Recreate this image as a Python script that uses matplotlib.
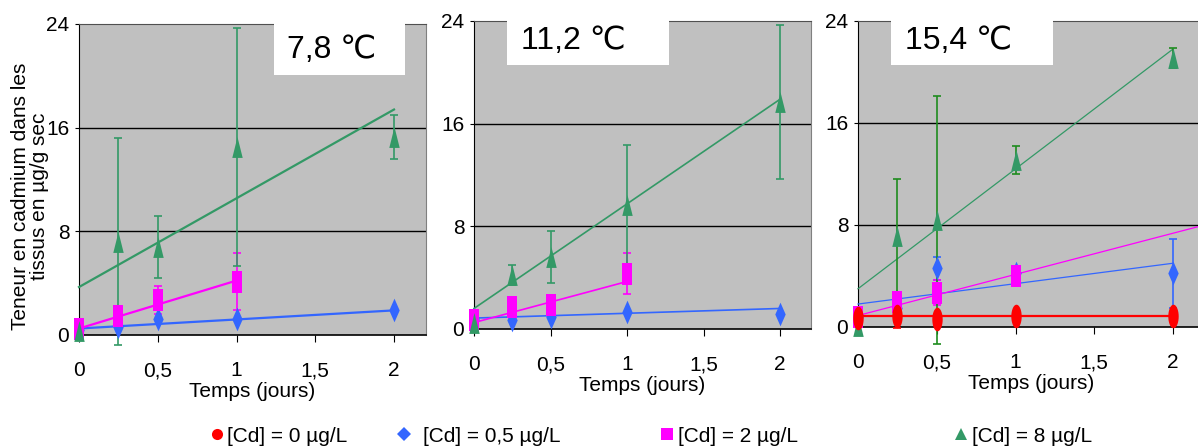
import numpy as np
import matplotlib
matplotlib.use("Agg")
from matplotlib import pyplot as plt
from matplotlib.lines import Line2D
from matplotlib.patches import Rectangle
from matplotlib.path import Path

plt.rcParams["font.family"] = ["Liberation Sans", "DejaVu Sans"]

nan = np.nan

panel_titles = ["7,8 \u2103", "11,2 \u2103", "15,4 \u2103"]
times = [0, 0.25, 0.5, 1, 2]
legend_labels = ["[Cd] = 0 \u00b5g/L", "[Cd] = 0,5 \u00b5g/L", "[Cd] = 2 \u00b5g/L", "[Cd] = 8 \u00b5g/L"]

# one entry per panel (None = series absent)
cd0 = [None, None, [0.7, 0.9, 0.6, 0.9, 0.9]]
cd0_err = [None, None, [nan, 1.0, nan, nan, nan]]
cd05 = [[0.4, 0.6, 1.2, 1.2, 1.9], [0.8, 0.7, 0.9, 1.3, 1.2], [0.8, 1.5, 4.6, 4.2, 4.2]]
cd05_err = [[nan] * 5, [nan] * 5, [nan, nan, 0.9, 0.4, 2.7]]
cd2 = [[0.5, 1.5, 2.7, 4.1, nan], [0.7, 1.7, 1.9, 4.3, nan], [0.8, 2.0, 2.7, 4.0, nan]]
cd2_err = [[nan, 0.5, 1.1, 2.2, nan], [nan, nan, nan, 1.6, nan], [nan, 0.6, 1.0, 0.4, nan]]
cd8 = [[0.3, 7.2, 6.8, 14.5, 15.3], [0.5, 4.2, 5.6, 9.7, 17.7], [0.1, 7.1, 8.4, 13.1, 21.1]]
cd8_err = [[nan, 8.0, 2.4, 9.2, 1.7], [nan, 0.8, 2.0, 4.6, 6.0], [nan, 4.5, 9.7, 1.1, 0.8]]

# trend lines: (value at t=0, value at end), end time
cd0_trend = [None, None, (0.9, 0.9)]
cd05_trend = [(0.5, 1.9), (0.85, 1.6), (1.8, 5.0)]
cd2_trend = [(0.5, 4.2), (0.5, 3.7), (0.9, 8.0)]
cd2_trend_end = [1, 1, 2.2]
cd8_trend = [(3.7, 17.4), (1.6, 17.9), (3.0, 21.8)]

RED, BLUE, MAGENTA, GREEN = "#ff0000", "#3366ff", "#ff00ff", "#339966"


def tall_marker(kind, w):
    if kind == "tri":
        v = [(-w, -0.5), (w, -0.5), (0, 0.5), (-w, -0.5)]
    elif kind == "dia":
        v = [(0, 0.5), (w, 0), (0, -0.5), (-w, 0), (0, 0.5)]
    elif kind == "rect":
        v = [(-w, -0.5), (w, -0.5), (w, 0.5), (-w, 0.5), (-w, -0.5)]
    else:
        a = np.linspace(0, 2 * np.pi, 40)
        v = list(zip(w * np.cos(a), 0.5 * np.sin(a)))
    return Path(v, closed=True)


MK = {"red": tall_marker("ell", 0.22), "blue": tall_marker("dia", 0.22),
      "mag": tall_marker("rect", 0.22), "green": tall_marker("tri", 0.25)}

W, H = 1198, 446
fig = plt.figure(figsize=(W / 100, H / 100), dpi=100)

# axes boxes in pixels: left, top, bottom, px per day
boxes = [(79, 24, 335, 157.5), (474, 21, 329, 153), (858, 21, 327, 157.5)]
title_boxes = [(0.562, 0.836, 0.38, 0.60, 0.916), (0.098, 0.857, 0.482, 0.14, 0.935),
               (0.095, 0.856, 0.468, 0.136, 0.935)]
line_w = [1.6, 1.2, 0.9]


def draw_series(ax, vals, err, trend, t_end, color, marker, lw, ecolor, ms=16):
    if vals is None:
        return
    tx = [0, t_end]
    ax.plot(tx, list(trend), color=color, lw=lw, zorder=3, clip_on=False)
    ax.errorbar(times, vals, yerr=err, fmt="none", ecolor=ecolor, elinewidth=1.2,
                capsize=3, capthick=1.2, zorder=4, clip_on=False)
    ax.plot(times, vals, linestyle="none", marker=marker, color=color,
            markersize=ms, markeredgewidth=0, zorder=5, clip_on=False)


for i in range(3):
    left, top, bottom, ppd = boxes[i]
    ax = fig.add_axes([left / W, (H - bottom) / H, 2.2 * ppd / W, (bottom - top) / H])
    ax.set_facecolor("#c0c0c0")
    ax.set_xlim(0, 2.2)
    ax.set_ylim(0, 24)
    ax.set_yticks([0, 8, 16, 24])
    ax.set_xticks([0, 0.5, 1, 1.5, 2])
    ax.set_xticklabels(["0", "0,5", "1", "1,5", "2"])
    ax.tick_params(axis="x", length=5, pad=14, labelsize=15, direction="out")
    ax.tick_params(axis="y", length=3, pad=4, labelsize=15, direction="out")
    for y in [8, 16]:
        ax.axhline(y, color="black", lw=1, zorder=1)
    ax.spines["left"].set_color("black")
    ax.spines["bottom"].set_color("black")
    ax.spines["bottom"].set_linewidth(1.2)
    ax.spines["top"].set_color("#505050")
    ax.spines["right"].set_color("#808080")
    ax.set_xlabel("Temps (jours)", fontsize=15, labelpad=1)

    ecol8 = "#1e8c1e" if i == 2 else GREEN
    lw = line_w[i]
    draw_series(ax, cd05[i], cd05_err[i], cd05_trend[i], 2, BLUE, MK["blue"], lw, BLUE, ms=17)
    draw_series(ax, cd2[i], cd2_err[i], cd2_trend[i], cd2_trend_end[i], MAGENTA, MK["mag"], lw, MAGENTA)
    draw_series(ax, cd8[i], cd8_err[i], cd8_trend[i], 2, GREEN, MK["green"], lw, ecol8, ms=15)
    if cd0[i] is not None:
        draw_series(ax, cd0[i], cd0_err[i], cd0_trend[i], 2, RED, MK["red"], 1.6, RED, ms=17)

    bx, by, bw, tx, ty = title_boxes[i]
    ax.add_patch(Rectangle((bx, by), bw, 1.02 - by, transform=ax.transAxes,
                           facecolor="white", edgecolor="none", zorder=6, clip_on=False))
    ax.text(tx, ty, panel_titles[i], transform=ax.transAxes, fontsize=23,
            ha="left", va="center", zorder=7)

fig.text(30 / W, (H - 196) / H, "Teneur en cadmium dans les\ntissus en \u00b5g/g sec",
         rotation=90, ha="center", va="center", fontsize=15, multialignment="center",
         linespacing=1.05)

# legend entries placed individually
leg_handles = [
    Line2D([], [], linestyle="none", marker="o", color=RED, markersize=8, markeredgewidth=0),
    Line2D([], [], linestyle="none", marker="D", color=BLUE, markersize=7, markeredgewidth=0),
    Line2D([], [], linestyle="none", marker="s", color=MAGENTA, markersize=8, markeredgewidth=0),
    Line2D([], [], linestyle="none", marker="^", color=GREEN, markersize=8, markeredgewidth=0),
]
leg_x = [217, 404, 667, 961]
leg_pad = [0.2, 0.6, 0.23, 0.23]
for h, lab, x, pad in zip(leg_handles, legend_labels, leg_x, leg_pad):
    fig.legend(handles=[h], labels=[lab], loc="center left",
               bbox_to_anchor=((x - 6.25) / W, 10 / H), frameon=False,
               handlelength=0.6, handletextpad=pad, borderpad=0, borderaxespad=0,
               fontsize=15)

fig.savefig("out.png", dpi=100)
